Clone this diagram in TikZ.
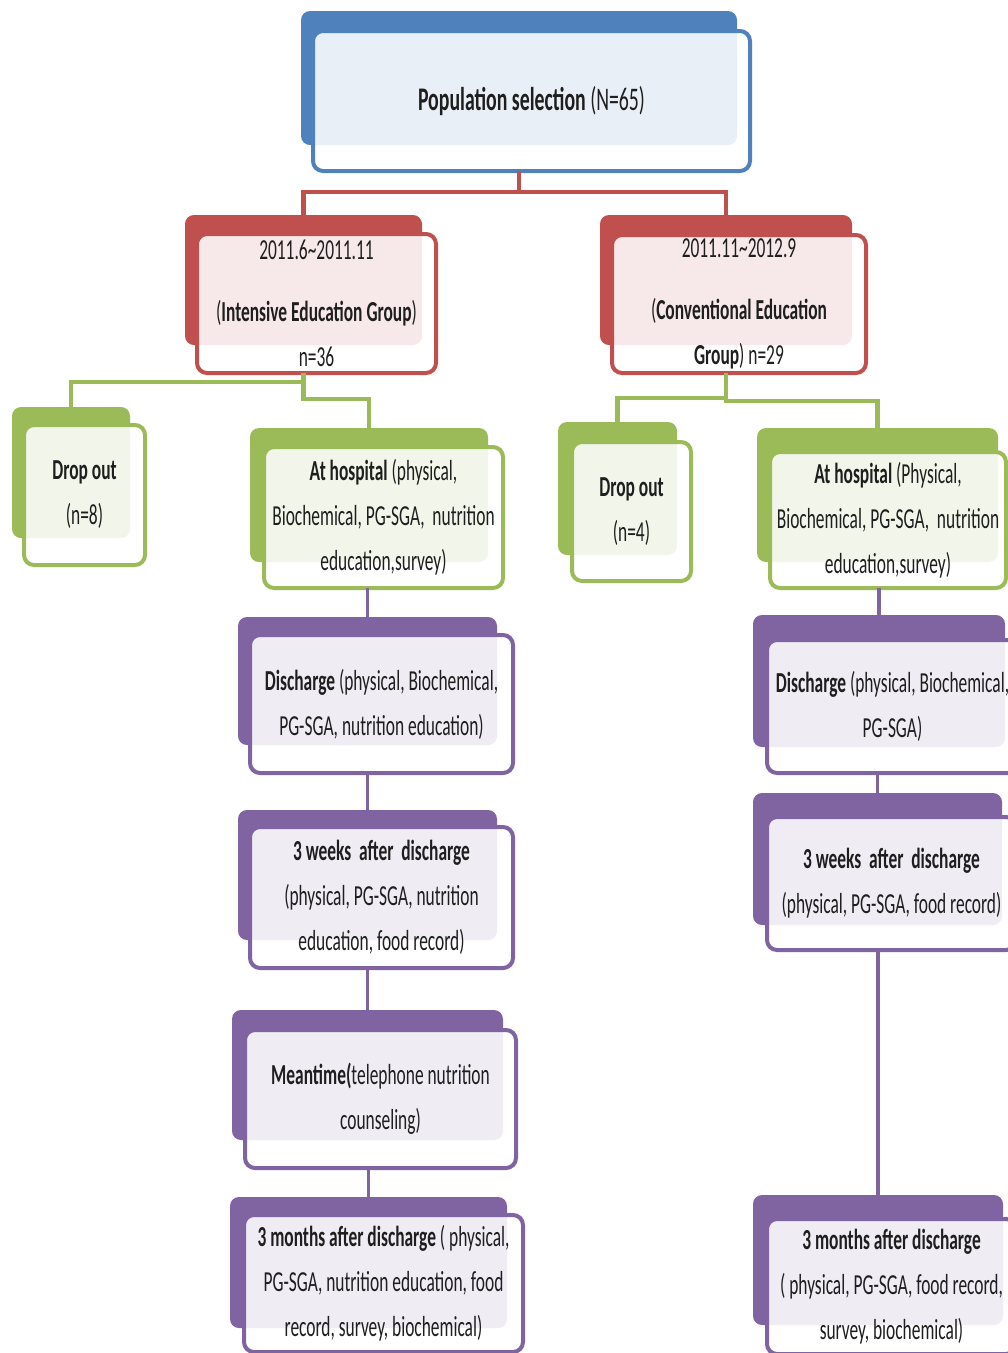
\documentclass[tikz,border=0pt]{standalone}
\usepackage{fontspec}
\setmainfont{Carlito}[FakeStretch=0.6]
\usetikzlibrary{calc}
\definecolor{cblue}{HTML}{4F81BD}
\definecolor{cred}{HTML}{C0504D}
\definecolor{cgreen}{HTML}{9BBB59}
\definecolor{cpurple}{HTML}{8064A2}
\definecolor{ctext}{HTML}{1E1E1E}
\tikzset{
  backbox/.style={rectangle, rounded corners=9pt, inner sep=0pt, outer sep=0pt, draw=none},
  frontbox/.style={rectangle, rounded corners=10pt, inner sep=0pt, outer sep=0pt,
    line width=4pt, fill=white, fill opacity=0.88, text opacity=1, align=center,
    font=\fontsize{29}{45}\selectfont, text=ctext},
  rconn/.style={line width=4.5pt, cred},
  gconn/.style={line width=4.5pt, cgreen},
  pconn/.style={line width=3.5pt, cpurple},
}
\begin{document}
\begin{tikzpicture}[x=1pt,y=1pt]
\useasboundingbox (0,0) rectangle (1008,-1353);
\fill[white] (0,0) rectangle (1008,-1353);

% Population
\node[backbox, fill=cblue, minimum width=436pt, minimum height=134pt] (popB) at (519,-78) {};
\node[frontbox, draw=cblue, minimum width=437pt, minimum height=140pt, font=\fontsize{33}{45}\selectfont] (popF) at (531.5,-101) {\textbf{Population selection} (N=65)};

% Intensive
\node[backbox, fill=cred, minimum width=237pt, minimum height=130pt] (intB) at (303.5,-280) {};
\node[frontbox, draw=cred, minimum width=239pt, minimum height=139pt] (intF) at (316.5,-303.5)
  {2011.6\textasciitilde 2011.11\\[17pt](\textbf{Intensive Education Group})\\n=36};

% Conventional
\node[backbox, fill=cred, minimum width=252pt, minimum height=130pt] (convB) at (726,-280) {};
\node[frontbox, draw=cred, minimum width=254pt, minimum height=138pt] (convF) at (739,-304)
  {2011.11\textasciitilde 2012.9\\[17pt](\textbf{Conventional Education}\\\textbf{Group}) n=29};

% Drop out left
\node[backbox, fill=cgreen, minimum width=118pt, minimum height=131pt] (dropLB) at (71,-472.5) {};
\node[frontbox, draw=cgreen, minimum width=121pt, minimum height=140pt] (dropLF) at (84.5,-495)
  {\textbf{Drop out}\\(n=8)};

% At hospital left
\node[backbox, fill=cgreen, minimum width=238pt, minimum height=134pt] (hospLB) at (369,-495) {};
\node[frontbox, draw=cgreen, minimum width=239pt, minimum height=141pt] (hospLF) at (383.5,-517.5)
  {\textbf{At hospital} (physical,\\Biochemical, PG-SGA,\ \ nutrition\\education,survey)};

% Drop out right
\node[backbox, fill=cgreen, minimum width=119pt, minimum height=133pt] (dropRB) at (617.5,-488.5) {};
\node[frontbox, draw=cgreen, minimum width=119pt, minimum height=139pt] (dropRF) at (631.5,-511.5)
  {\textbf{Drop out}\\(n=4)};

% At hospital right
\node[backbox, fill=cgreen, minimum width=241pt, minimum height=134pt] (hospRB) at (877.5,-495) {};
\node[frontbox, draw=cgreen, minimum width=236pt, minimum height=136pt] (hospRF) at (888,-520)
  {\textbf{At hospital} (Physical,\\Biochemical, PG-SGA,\ \ nutrition\\education,survey)};

% Discharge left
\node[backbox, fill=cpurple, minimum width=259pt, minimum height=128pt] (disLB) at (367.5,-681) {};
\node[frontbox, draw=cpurple, minimum width=263pt, minimum height=138pt] (disLF) at (381.5,-704)
  {\textbf{Discharge} (physical,\ Biochemical,\\PG-SGA,\ nutrition education)};

% Discharge right
\node[backbox, fill=cpurple, minimum width=252pt, minimum height=132pt] (disRB) at (879,-681) {};
\node[frontbox, draw=cpurple, minimum width=251pt, minimum height=133pt] (disRF) at (892.5,-706.5)
  {\textbf{Discharge} (physical,\ Biochemical,\\PG-SGA)};

% 3 weeks left
\node[backbox, fill=cpurple, minimum width=259pt, minimum height=130pt] (wkLB) at (367.5,-875) {};
\node[frontbox, draw=cpurple, minimum width=263pt, minimum height=141pt] (wkLF) at (381.5,-897.5)
  {\textbf{3 weeks\ \ after\ \ discharge}\\(physical,\ PG-SGA,\ nutrition\\education, food\ record)};

% 3 weeks right
\node[backbox, fill=cpurple, minimum width=249pt, minimum height=132pt] (wkRB) at (877.5,-859) {};
\node[frontbox, draw=cpurple, minimum width=249pt, minimum height=133pt] (wkRF) at (891.5,-883.5)
  {\textbf{3 weeks\ \ after\ \ discharge}\\(physical,\ PG-SGA,\ food\ record)};

% Meantime
\node[backbox, fill=cpurple, minimum width=271pt, minimum height=130pt] (meanB) at (367.5,-1075) {};
\node[frontbox, draw=cpurple, minimum width=271pt, minimum height=138pt] (meanF) at (380.5,-1099)
  {\textbf{Meantime(}telephone nutrition\\counseling)};

% 3 months left
\node[backbox, fill=cpurple, minimum width=277pt, minimum height=131pt] (monLB) at (368.5,-1262.5) {};
\node[frontbox, draw=cpurple, minimum width=279pt, minimum height=137pt] (monLF) at (383.5,-1283.5)
  {\textbf{3 months\ after\ discharge}\ ( physical,\\PG-SGA,\ nutrition education,\ food\\record, survey,\ biochemical)};

% 3 months right
\node[backbox, fill=cpurple, minimum width=250pt, minimum height=130pt] (monRB) at (878,-1260) {};
\node[frontbox, draw=cpurple, minimum width=249pt, minimum height=135pt] (monRF) at (891.5,-1286.5)
  {\textbf{3 months\ after\ discharge}\\( physical,\ PG-SGA,\ food\ record,\\survey,\ biochemical)};

% red connectors
\draw[rconn] (popB |- popF.south) |- ($(intB.north)+(0,23)$) -- (intB.north);
\draw[rconn] (popB |- popF.south) |- ($(convB.north)+(0,23)$) -- (convB.north);

% green connectors
\draw[gconn] (intB |- intF.south) |- ($(dropLB.north)+(0,25)$) -- (dropLB.north);
\draw[gconn] (intB |- intF.south) -- ++(0,-26) -| (hospLB.north);
\draw[gconn] (convB |- convF.south) |- ($(dropRB.north)+(0,24)$) -- (dropRB.north);
\draw[gconn] (convB |- convF.south) -- ++(0,-28) -| (hospRB.north);

% purple connectors
\draw[pconn] (disLB.north |- hospLF.south) -- (disLB.north);
\draw[pconn] (wkLB.north |- disLF.south) -- (wkLB.north);
\draw[pconn] (meanB.north |- wkLF.south) -- (meanB.north);
\draw[pconn] (monLB.north |- meanF.south) -- (monLB.north);
\draw[pconn] (disRB.north |- hospRF.south) -- (disRB.north);
\draw[pconn] (wkRB.north |- disRF.south) -- (wkRB.north);
\draw[pconn] (monRB.north |- wkRF.south) -- (monRB.north);
\end{tikzpicture}
\end{document}
